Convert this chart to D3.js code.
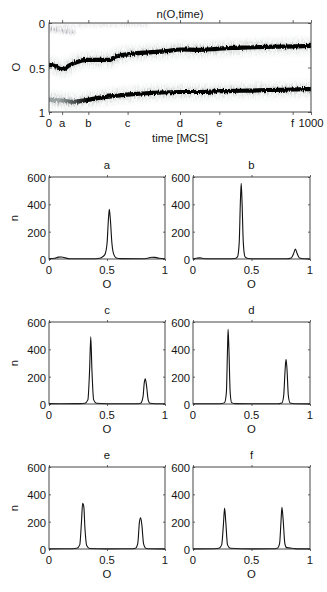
<!DOCTYPE html>
<html>
<head>
<meta charset="utf-8">
<script src="https://cdn.jsdelivr.net/npm/d3@7"></script>
<style>
  body { margin: 0; background: #fff; }
  svg text { font-family: "Liberation Sans", Arial, sans-serif; font-size: 11.3px; fill: #151515; }
</style>
</head>
<body>
<div id="chart"></div>
<script>
// ---- data ----
// top panel: ridge positions of n(O,time), [time, O]
const upperRidge = [[0,0.47],[20,0.48],[43,0.515],[55,0.52],[75,0.48],[105,0.44],[144,0.415],[190,0.415],[233,0.415],[252,0.38],[321,0.345],[380,0.33],[449,0.315],[500,0.298],[576,0.302],[640,0.29],[703,0.28],[760,0.275],[831,0.268],[900,0.265],[1000,0.258]];
const lowerRidge = [[0,0.86],[30,0.865],[60,0.875],[94,0.885],[144,0.865],[196,0.839],[250,0.82],[321,0.80],[400,0.785],[500,0.775],[576,0.775],[640,0.768],[703,0.762],[760,0.76],[831,0.753],[900,0.75],[1000,0.742]];
const faintTop1 = [[0,0.07],[30,0.08],[61,0.093],[99,0.1]];
const faintTop2 = [[0,0.04],[60,0.035],[120,0.03],[200,0.025],[300,0.02],[380,0.02]];
const faintLow = [[20,0.9],[60,0.905],[100,0.9],[130,0.895]];

const timeTicks = [0, 50, 150, 300, 500, 650, 930, 1000];
const timeTickLabels = ["0", "a", "b", "c", "d", "e", "f", "1000"];
const oTicks = [0, 0.5, 1];
const nTicks = [0, 200, 400, 600];

// histogram panels n(O) at the marked times, [O, n]
const panelNames = ["a", "b", "c", "d", "e", "f"];
const histA = [[0,3],[0.05,6],[0.08,14],[0.11,15],[0.14,8],[0.18,2],[0.38,2],[0.42,4],[0.45,10],[0.48,30],[0.5,110],[0.513,300],[0.52,364],[0.528,300],[0.543,110],[0.56,30],[0.58,8],[0.62,3],[0.8,2],[0.85,6],[0.885,13],[0.915,12],[0.95,5],[1,2]];
const histB = [[0,3],[0.03,6],[0.06,8],[0.09,4],[0.12,2],[0.3,2],[0.36,4],[0.38,15],[0.395,120],[0.405,420],[0.412,554],[0.419,420],[0.43,120],[0.445,15],[0.47,4],[0.55,2],[0.8,2],[0.84,8],[0.86,40],[0.875,73],[0.89,40],[0.91,8],[0.95,2],[1,1]];
const histC = [[0,3],[0.1,2],[0.27,3],[0.31,6],[0.335,30],[0.35,250],[0.36,492],[0.37,250],[0.385,30],[0.41,5],[0.5,2],[0.75,2],[0.79,6],[0.81,50],[0.822,160],[0.83,185],[0.84,140],[0.855,30],[0.87,5],[0.92,2],[1,2]];
const histD = [[0,2],[0.2,2],[0.25,4],[0.27,10],[0.285,80],[0.295,400],[0.30,546],[0.307,400],[0.318,80],[0.33,10],[0.36,3],[0.5,2],[0.72,2],[0.76,8],[0.775,60],[0.788,260],[0.795,327],[0.803,260],[0.815,60],[0.83,8],[0.87,2],[1,1]];
const histE = [[0,1],[0.2,2],[0.24,5],[0.265,30],[0.28,200],[0.29,334],[0.3,310],[0.31,150],[0.325,25],[0.35,4],[0.5,1],[0.7,2],[0.745,6],[0.765,40],[0.78,200],[0.79,229],[0.8,180],[0.815,40],[0.835,6],[0.87,2],[1,1]];
const histF = [[0,1],[0.18,2],[0.22,5],[0.245,30],[0.26,180],[0.27,300],[0.28,200],[0.295,30],[0.32,5],[0.5,1],[0.68,2],[0.72,6],[0.74,40],[0.752,200],[0.76,305],[0.77,220],[0.785,40],[0.8,10],[0.86,4],[0.9,1],[1,1]];
const hists = [histA, histB, histC, histD, histE, histF];

// ---- layout ----
const W = 327, H = 592;
const svg = d3.select("#chart").append("svg")
  .attr("width", W)
  .attr("height", H);

const tx = d3.scaleLinear().domain([0, 1000]).range([49, 311]);
const ty = d3.scaleLinear().domain([0, 1]).range([23, 112]);

const defs = svg.append("defs");

// ragged edges for the dark ridges
const rough = defs.append("filter").attr("id", "rough")
  .attr("filterUnits", "userSpaceOnUse")
  .attr("x", 40).attr("y", 10).attr("width", 285).attr("height", 115);
rough.append("feTurbulence")
  .attr("type", "fractalNoise")
  .attr("baseFrequency", "0.9 0.08")
  .attr("numOctaves", 2)
  .attr("seed", 4)
  .attr("result", "noise");
rough.append("feDisplacementMap")
  .attr("in", "SourceGraphic").attr("in2", "noise")
  .attr("scale", 3.5)
  .attr("xChannelSelector", "R").attr("yChannelSelector", "G");

// speckled grey cloud around the ridges
const speck = defs.append("filter").attr("id", "speck")
  .attr("filterUnits", "userSpaceOnUse")
  .attr("x", 40).attr("y", 10).attr("width", 285).attr("height", 115);
speck.append("feGaussianBlur").attr("in", "SourceGraphic")
  .attr("stdDeviation", "0.8 1.6").attr("result", "b");
speck.append("feTurbulence")
  .attr("type", "fractalNoise")
  .attr("baseFrequency", "1.2 0.25")
  .attr("numOctaves", 2)
  .attr("seed", 9)
  .attr("result", "n");
const ct = speck.append("feComponentTransfer").attr("in", "n").attr("result", "m");
ct.append("feFuncA").attr("type", "table").attr("tableValues", "0 0.1 0.4 1 1");
speck.append("feComposite").attr("in", "b").attr("in2", "m").attr("operator", "in");

// the lower branch only turns dark after the first ~100 MCS
const lowGrad = defs.append("linearGradient").attr("id", "lowgrad")
  .attr("gradientUnits", "userSpaceOnUse")
  .attr("x1", tx(40)).attr("x2", tx(150)).attr("y1", 0).attr("y2", 0);
lowGrad.append("stop").attr("offset", 0).attr("stop-color", "#9aa2a2");
lowGrad.append("stop").attr("offset", 1).attr("stop-color", "#000");

// tick marks inside the box on every side, MATLAB style
function boxAxes(g, x, y, xt, yt, tl) {
  const [x0, x1] = x.range(), [y0, y1] = y.range();
  g.append("g").attr("transform", "translate(0," + y0 + ")")
    .call(d3.axisTop(x).tickValues(xt).tickSize(tl).tickFormat(""));
  g.append("g").attr("transform", "translate(0," + y1 + ")")
    .call(d3.axisBottom(x).tickValues(xt).tickSize(tl).tickFormat(""));
  g.append("g").attr("transform", "translate(" + x0 + ",0)")
    .call(d3.axisRight(y).tickValues(yt).tickSize(tl).tickFormat(""));
  g.append("g").attr("transform", "translate(" + x1 + ",0)")
    .call(d3.axisLeft(y).tickValues(yt).tickSize(tl).tickFormat(""));
  g.selectAll(".domain").remove();
  g.selectAll(".tick line").attr("stroke", "#444").attr("stroke-width", 0.8);
  g.append("rect")
    .attr("x", Math.min(x0, x1)).attr("y", Math.min(y0, y1))
    .attr("width", Math.abs(x1 - x0)).attr("height", Math.abs(y1 - y0))
    .attr("fill", "none").attr("stroke", "#333").attr("stroke-width", 0.9);
}

// ---- top panel ----
const topG = svg.append("g");

defs.append("clipPath").attr("id", "topclip")
  .append("rect").attr("x", 49).attr("y", 23).attr("width", 262).attr("height", 89);

const ridgeLine = d3.line()
  .x(d => tx(d[0])).y(d => ty(d[1]))
  .curve(d3.curveMonotoneX);

const heat = topG.append("g").attr("clip-path", "url(#topclip)");

// faint halos
const halo = heat.append("g").attr("filter", "url(#speck)");
[upperRidge, lowerRidge].forEach(r => {
  halo.append("path").attr("d", ridgeLine(r))
    .attr("fill", "none").attr("stroke", "#7a8a8a").attr("stroke-opacity", 0.16).attr("stroke-width", 18);
  halo.append("path").attr("d", ridgeLine(r))
    .attr("fill", "none").attr("stroke", "#4a5858").attr("stroke-opacity", 0.28).attr("stroke-width", 9);
});
[[faintTop1, 0.55, 4], [faintTop2, 0.25, 3], [faintLow, 0.4, 3]].forEach(([r, op, w]) => {
  halo.append("path").attr("d", ridgeLine(r))
    .attr("fill", "none").attr("stroke", "#556").attr("stroke-opacity", op).attr("stroke-width", w);
});

// dark ridges
const core = heat.append("g").attr("filter", "url(#rough)");
core.append("path").attr("d", ridgeLine(upperRidge))
  .attr("fill", "none").attr("stroke", "#000").attr("stroke-width", 4.2);
core.append("path").attr("d", ridgeLine(lowerRidge))
  .attr("fill", "none").attr("stroke", "url(#lowgrad)").attr("stroke-width", 4.2);

boxAxes(topG, tx, ty, timeTicks, oTicks, 3);

topG.selectAll(".xlab").data(timeTicks).join("text")
  .attr("x", d => tx(d)).attr("y", 123)
  .attr("text-anchor", "middle").attr("dominant-baseline", "central")
  .text((d, i) => timeTickLabels[i]);
topG.selectAll(".ylab").data(oTicks).join("text")
  .attr("x", 45).attr("y", d => ty(d) + 1)
  .attr("text-anchor", "end").attr("dominant-baseline", "central")
  .text(d => d);
topG.append("text").attr("x", 180).attr("y", 14)
  .attr("text-anchor", "middle").attr("dominant-baseline", "central")
  .text("n(O,time)");
topG.append("text").attr("x", 180).attr("y", 138)
  .attr("text-anchor", "middle").attr("dominant-baseline", "central")
  .text("time [MCS]");
topG.append("text")
  .attr("transform", "translate(16,67) rotate(-90)")
  .attr("text-anchor", "middle").attr("dominant-baseline", "central")
  .text("O");

// ---- histogram panels ----
const colX = [[49, 165], [193, 310]];
const rowTop = [177, 322, 467];
const panelH = 82;

hists.forEach((data, i) => {
  const col = i % 2, row = Math.floor(i / 2);
  const x = d3.scaleLinear().domain([0, 1]).range(colX[col]);
  const y = d3.scaleLinear().domain([0, 600]).range([rowTop[row] + panelH, rowTop[row]]);
  const g = svg.append("g");

  g.append("path")
    .attr("d", d3.line().x(d => x(d[0])).y(d => y(d[1])).curve(d3.curveMonotoneX)(data))
    .attr("fill", "none").attr("stroke", "#111").attr("stroke-width", 1.1);

  boxAxes(g, d3.scaleLinear().domain([0, 1]).range(colX[col]),
    d3.scaleLinear().domain([0, 600]).range([rowTop[row], rowTop[row] + panelH]),
    oTicks, nTicks, 2);

  const xm = (colX[col][0] + colX[col][1]) / 2;
  g.selectAll(".xl").data(oTicks).join("text")
    .attr("x", d => x(d)).attr("y", rowTop[row] + panelH + 11)
    .attr("text-anchor", "middle").attr("dominant-baseline", "central")
    .text(d => d);
  g.selectAll(".yl").data(nTicks).join("text")
    .attr("x", colX[col][0] - 3).attr("y", d => y(d) + 1)
    .attr("text-anchor", "end").attr("dominant-baseline", "central")
    .text(d => d);
  g.append("text").attr("x", xm).attr("y", rowTop[row] - 12)
    .attr("text-anchor", "middle").attr("dominant-baseline", "central")
    .text(panelNames[i]);
  g.append("text").attr("x", xm).attr("y", rowTop[row] + panelH + 25)
    .attr("text-anchor", "middle").attr("dominant-baseline", "central")
    .text("O");
  if (col === 0) {
    g.append("text")
      .attr("transform", "translate(14," + (rowTop[row] + panelH / 2) + ") rotate(-90)")
      .attr("text-anchor", "middle").attr("dominant-baseline", "central")
      .text("n");
  }
});
</script>
</body>
</html>
